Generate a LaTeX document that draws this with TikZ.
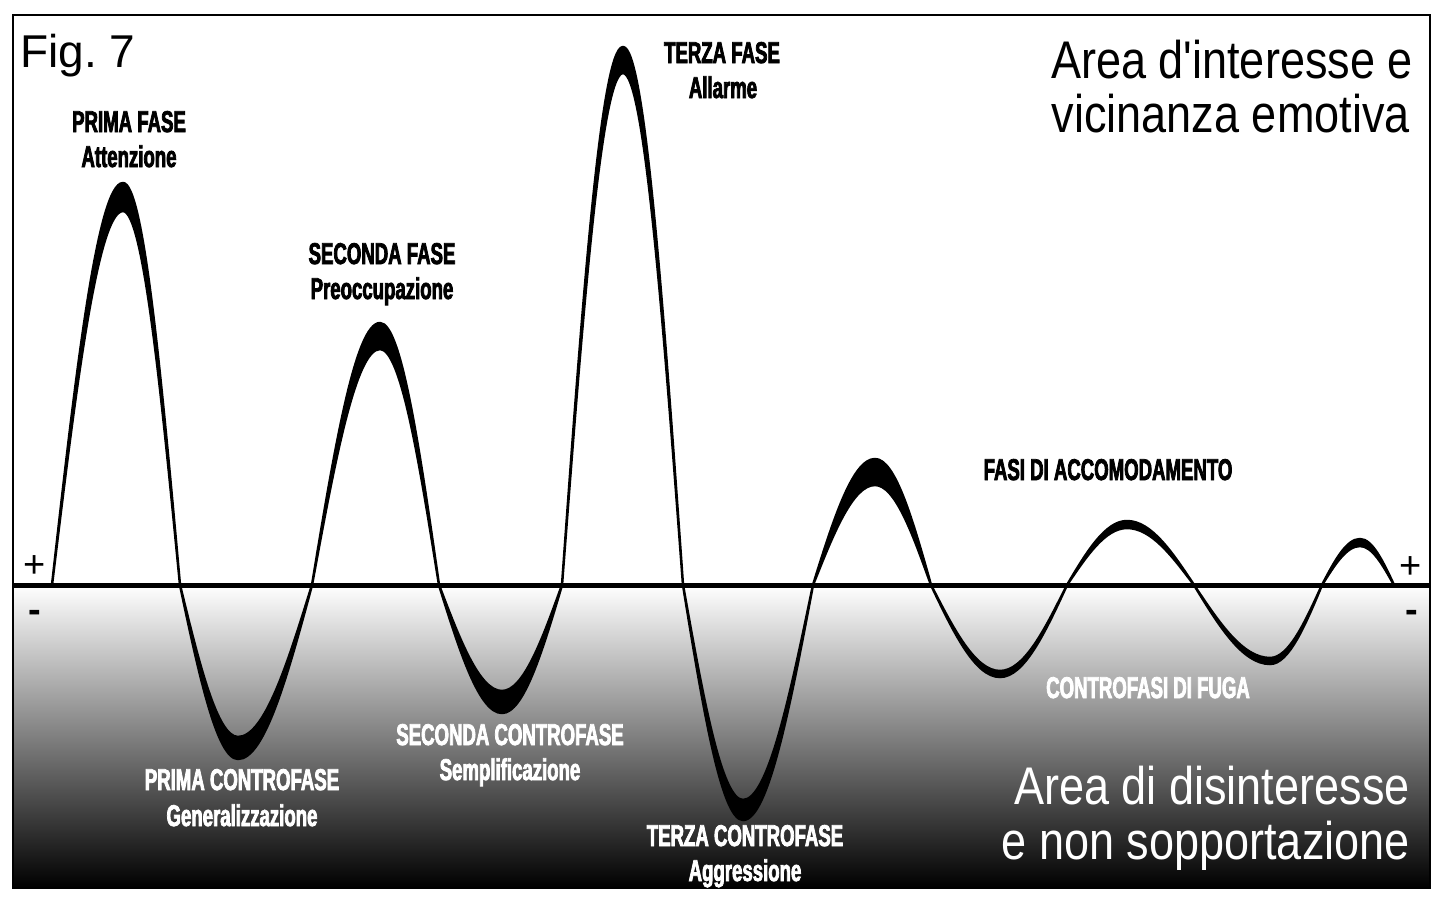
\documentclass[tikz,border=0pt]{standalone}
\usepackage{fontspec}
\setmainfont{Liberation Sans}
\newfontfamily\areafont{Liberation Sans}[FakeStretch=0.85]
\newfontfamily\phasefont{Liberation Sans Bold}[FakeStretch=0.62,FakeBold=2.5]

\tikzset{
  phase/.style={font=\phasefont\fontsize{30}{30}\selectfont, inner sep=0pt},
  counter/.style={phase, text=white},
  area/.style={font=\areafont\fontsize{53}{53}\selectfont, inner sep=0pt},
  figlabel/.style={font=\fontsize{46}{46}\selectfont, inner sep=0pt},
  sign/.style={font=\fontsize{38}{38}\selectfont, inner sep=0pt},
  wave/.style={fill=black, draw=black, line width=2.5pt, line join=round},
}

\begin{document}
\begin{tikzpicture}[x=1pt, y=-1pt]
        \useasboundingbox (0,0) rectangle (1440,900);
        % lower area
        \shade[top color=white, middle color=black!40, bottom color=black] (13,585) rectangle (1430,888);
        % one lobe per half wave: start, top, end, outer y, inner y
        \foreach \a/\m/\b/\yo/\yi in {52/123/180/183/211, 180/238/312/759/737, 312/380/439/323/349,
            439/502/562/713/691, 562/623/683/47/73, 683/743/813/820/800, 813/875/931/459/485,
            931/1000/1067/677/671, 1067/1127/1194/521/528, 1194/1270/1322/664/658, 1322/1360/1394/539/546}
          \filldraw[wave] (\a,585) .. controls ({\a+0.326*(\m-\a)},{585+0.512*(\yo-585)}) and ({\a+0.638*(\m-\a)},\yo) .. (\m,\yo)
            .. controls ({\m+0.362*(\b-\m)},\yo) and ({\b-0.326*(\b-\m)},{585+0.512*(\yo-585)}) .. (\b,585)
            .. controls ({\b-0.326*(\b-\m)},{585+0.512*(\yi-585)}) and ({\m+0.362*(\b-\m)},\yi) .. (\m,\yi)
            .. controls ({\a+0.638*(\m-\a)},\yi) and ({\a+0.326*(\m-\a)},{585+0.512*(\yi-585)}) .. (\a,585) -- cycle;
        % axis
        \coordinate (axisL) at (13,585);
        \coordinate (axisR) at (1430,585);
        \draw[line width=5pt] (axisL) -- (axisR);
        % frame
        \draw[line width=2pt] (13,15) rectangle (1430,888);

        \node[figlabel, anchor=base west] (fig) at (20,67) {Fig.\ 7};
        \node[area, anchor=base east] (top1) at (1413,78) {Area d'interesse e};
        \node[area, anchor=base east] (top2) at (1410,132) {vicinanza emotiva};
        \node[area, text=white, anchor=base east] (bot1) at (1410,804) {Area di disinteresse};
        \node[area, text=white, anchor=base east] (bot2) at (1410,859) {e non sopportazione};

        \node[sign, anchor=base] (plusL) at (35,577) {+};
        \node[sign, anchor=base] (minusL) at (35,622) {\textbf{-}};
        \node[sign, anchor=base] (plusR) at (1411,578) {+};
        \node[sign, anchor=base] (minusR) at (1412,622) {\textbf{-}};

        \node[phase, anchor=base] (fase1) at (129,132) {PRIMA FASE};
        \node[phase, anchor=base] (fase1b) at (129,167) {Attenzione};
        \node[phase, anchor=base] (fase2) at (382,264) {SECONDA FASE};
        \node[phase, anchor=base] (fase2b) at (382,299) {Preoccupazione};
        \node[phase, anchor=base] (fase3) at (722,63) {TERZA FASE};
        \node[phase, anchor=base] (fase3b) at (723,98) {Allarme};
        \node[phase, anchor=base] (accom) at (1108,480) {FASI DI ACCOMODAMENTO};

        \node[counter, anchor=base] (contro1) at (242,790) {PRIMA CONTROFASE};
        \node[counter, anchor=base] (contro1b) at (242,826) {Generalizzazione};
        \node[counter, anchor=base] (contro2) at (510,745) {SECONDA CONTROFASE};
        \node[counter, anchor=base] (contro2b) at (510,780) {Semplificazione};
        \node[counter, anchor=base] (contro3) at (745,846) {TERZA CONTROFASE};
        \node[counter, anchor=base] (contro3b) at (745,881) {Aggressione};
        \node[counter, anchor=base] (fuga) at (1148,698) {CONTROFASI DI FUGA};
      \end{tikzpicture}
\end{document}
